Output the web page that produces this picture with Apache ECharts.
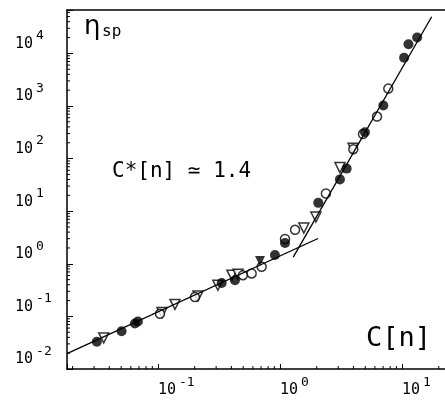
<!DOCTYPE html>
<html>
<head>
<meta charset="utf-8">
<script src="https://cdn.jsdelivr.net/npm/echarts@6/dist/echarts.min.js"></script>
<style>html,body{margin:0;padding:0;background:#fff;}#c{width:445px;height:402px;}</style>
</head>
<body>
<div id="c"></div>
<script>
// ---- data ----
const filledC   = [0.0316, 0.0504, 0.0648, 0.0686, 0.333, 0.428, 0.910, 1.10, 2.06, 3.10, 3.52, 4.97, 7.03, 10.4, 11.3, 13.3];
const filledEta = [0.033, 0.052, 0.073, 0.080, 0.432, 0.487, 1.47, 2.49, 14.4, 40.2, 64.5, 316, 1022, 8280, 14900, 20000];
const openC     = [0.104, 0.201, 0.497, 0.586, 0.708, 1.10, 1.33, 2.38, 3.99, 4.79, 6.24, 7.72];
const openEta   = [0.112, 0.233, 0.607, 0.655, 0.876, 2.97, 4.43, 21.7, 151, 293, 629, 2140];
const triC      = [0.036, 0.108, 0.138, 0.213, 0.310, 0.404, 0.453, 1.57, 1.97, 3.10, 3.97];
const triEta    = [0.039, 0.118, 0.169, 0.244, 0.391, 0.607, 0.635, 4.77, 7.75, 67.4, 158];
const filledTriC   = [0.686];
const filledTriEta = [1.13];
const diluteLineC   = [0.018, 2.05];
const diluteLineEta = [0.0196, 3.03];
const concLineC     = [1.285, 17.5];
const concLineEta   = [1.34, 49800];
// axis ranges and tick definitions
const xRange = [0.018, 22.5];
const yRange = [0.01, 66800];
const xDecades = [0.01, 0.1, 1, 10];
const yDecades = [0.01, 0.1, 1, 10, 100, 1000, 10000];
const minorSteps = [2, 3, 4, 5, 6, 7, 8, 9];

const zip = (a, b) => a.map((v, i) => [v, b[i]]);
const xMinor = [], yMinor = [];
xDecades.forEach(d => minorSteps.forEach(m => { const v = d * m; if (v > xRange[0] && v < xRange[1]) xMinor.push([v, yRange[0]]); }));
yDecades.forEach(d => minorSteps.forEach(m => { const v = d * m; if (v > yRange[0] && v < yRange[1]) yMinor.push([xRange[0], v]); }));

const MONO = 'DejaVu Sans Mono';
function powLabel(v) {
  const e = Math.log10(v);
  const r = Math.round(e);
  if (Math.abs(e - r) > 1e-6) return '';
  return '{b|10}{s|' + (r < 0 ? '-' + (-r) : r) + '}';
}
const richLab = {
  b: { fontSize: 15, fontFamily: MONO, color: '#000', lineHeight: 22, verticalAlign: 'bottom' },
  s: { fontSize: 13, fontFamily: MONO, color: '#000', lineHeight: 22, verticalAlign: 'top', padding: [0, 0, 0, 3] }
};

const chart = echarts.init(document.getElementById('c'), null, { renderer: 'canvas' });
const black = '#000';
chart.setOption({
  backgroundColor: '#fff',
  animation: false,
  grid: { left: 67, right: 0, top: 10, bottom: 33, containLabel: false, outerBoundsMode: 'none' },
  xAxis: [{
    type: 'log', logBase: 10, min: xRange[0], max: xRange[1],
    axisLine: { show: true, lineStyle: { color: black, width: 1.5 } },
    axisTick: { show: true, inside: true, length: 5, lineStyle: { color: black, width: 1 } },
    splitLine: { show: false },
    axisLabel: { show: true, align: 'left', margin: 7, formatter: powLabel, rich: richLab, color: black }
  }, {
    type: 'log', logBase: 10, min: xRange[0], max: xRange[1], position: 'top',
    axisLine: { show: true, lineStyle: { color: black, width: 1.5 } },
    axisTick: { show: false }, axisLabel: { show: false }, splitLine: { show: false }
  }],
  yAxis: {
    type: 'log', logBase: 10, min: yRange[0], max: yRange[1],
    axisLine: { show: true, lineStyle: { color: black, width: 1.5 } },
    axisTick: { show: true, inside: true, length: 6, lineStyle: { color: black, width: 1 } },
    splitLine: { show: false },
    axisLabel: { show: true, align: 'left', margin: 52, verticalAlign: 'bottom', padding: [0, 0, 2, 0], formatter: powLabel, rich: richLab, color: black }
  },
  series: [
    { type: 'line', data: zip(diluteLineC, diluteLineEta), symbol: 'none', lineStyle: { color: black, width: 1.3 }, silent: true },
    { type: 'line', data: zip(concLineC, concLineEta), symbol: 'none', lineStyle: { color: black, width: 1.3 }, silent: true },
    { type: 'scatter', data: zip(triC, triEta), symbol: 'triangle', symbolRotate: 180, symbolSize: 10,
      itemStyle: { color: '#fff', borderColor: black, borderWidth: 1.5 } },
    { type: 'scatter', data: zip(openC, openEta), symbol: 'circle', symbolSize: 9,
      itemStyle: { color: '#fff', borderColor: black, borderWidth: 1.5 } },
    { type: 'scatter', data: zip(filledC, filledEta), symbol: 'circle', symbolSize: 10,
      itemStyle: { color: black } },
    { type: 'scatter', data: zip(filledTriC, filledTriEta), symbol: 'triangle', symbolRotate: 180, symbolSize: 10,
      itemStyle: { color: black } },
    { type: 'custom', data: xMinor, silent: true, clip: false,
      renderItem: (p, api) => { const c = api.coord([api.value(0), api.value(1)]);
        return { type: 'line', shape: { x1: c[0], y1: c[1], x2: c[0], y2: c[1] - 3 }, style: { stroke: black, lineWidth: 1 } }; } },
    { type: 'custom', data: yMinor, silent: true, clip: false,
      renderItem: (p, api) => { const c = api.coord([api.value(0), api.value(1)]);
        return { type: 'line', shape: { x1: c[0], y1: c[1], x2: c[0] + 3, y2: c[1] }, style: { stroke: black, lineWidth: 1 } }; } }
  ],
  graphic: [
    { type: 'text', left: 84, top: 14, style: { text: 'η', fontSize: 26, fontFamily: 'DejaVu Sans', fill: black } },
    { type: 'text', left: 102, top: 24, style: { text: 'sp', fontSize: 16, fontFamily: MONO, fill: black } },
    { type: 'text', left: 112, top: 161, style: { text: 'C*[n] ≃ 1.4', fontSize: 21, fontFamily: MONO, fill: black } },
    { type: 'text', left: 366, top: 325, style: { text: 'C[n]', fontSize: 27, fontFamily: MONO, fill: black } }
  ]
});
</script>
</body>
</html>
